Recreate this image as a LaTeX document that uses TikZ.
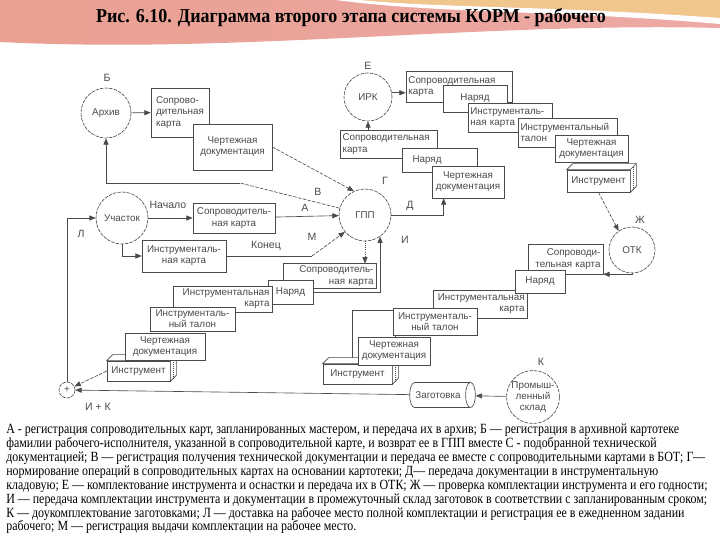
\documentclass[tikz,border=0pt]{standalone}
\usepackage{fontspec}
\setmainfont{Liberation Serif}
\setsansfont{Liberation Sans}
\newfontfamily\titlefont[FakeStretch=0.915]{Liberation Serif}
\newfontfamily\legendfont[FakeStretch=0.85]{Liberation Serif}
\usepackage{tikz}
\usetikzlibrary{shapes.geometric}
\usetikzlibrary{arrows.meta}
\definecolor{ink}{HTML}{4A4A4A}
\definecolor{hdrL}{HTML}{E9A092}
\definecolor{hdrM}{HTML}{E495B4}
\definecolor{hdrR}{HTML}{EDA9A6}
\definecolor{hdrY}{HTML}{F1C68C}

\begin{document}
\begin{tikzpicture}[
	proc/.style={circle, draw=ink, line width=0.45pt, dash pattern=on 2.5pt off 0.8pt, fill=white, inner sep=0pt, align=center, text=ink, font=\sffamily\fontsize{7}{8}\selectfont},
	doc/.style={rectangle, draw=ink, line width=0.45pt, fill=white, inner sep=1.5pt, text=ink, font=\sffamily\fontsize{7}{8}\selectfont},
	lbl/.style={inner sep=1pt, text=ink, font=\sffamily\fontsize{7.5}{9}\selectfont},
	wire/.style={draw=ink, line width=0.45pt},
	flow/.style={wire, -{Triangle[length=4.5pt, width=3.6pt]}},
	broken/.style={dash pattern=on 2.5pt off 1pt}]
	\useasboundingbox (0, 0) rectangle (18, 13.5);
	% Header band and title:
	\shade[left color=hdrL, middle color=hdrM, right color=hdrR] (0, 13.5) -- (18, 13.5) -- (18, 12.8) .. controls (12, 12.95) and (6, 12.15) .. (0, 12.45) -- cycle;
	\fill[hdrY] (9, 13.5) .. controls (11, 13.3) and (14, 13.35) .. (18, 13.05) -- (18, 13.5) -- cycle;
	\fill[white] (8.4, 13.5) .. controls (11, 13.15) and (14, 13.25) .. (18, 12.9) -- (18, 13.05) .. controls (14, 13.35) and (11, 13.3) .. (9, 13.5) -- cycle;
	\node[font=\titlefont\bfseries\fontsize{14}{16}\selectfont](title) at (8.775, 13.05){Рис. 6.10. Диаграмма второго этапа системы КОРМ - рабочего};
	% Circles (processes):
	\node[proc, minimum size=1.25cm](arch) at (2.65, 10.675){Архив};
	\node[proc, minimum size=1.2cm](irk) at (9.2, 11.075){ИРК};
	\node[proc, minimum size=1.3cm](gpp) at (9.125, 8.125){ГПП};
	\node[proc, minimum size=1.3cm](uch) at (3.05, 8.05){Участок};
	\node[proc, minimum size=1.15cm](otk) at (15.8, 7.25){ОТК};
	\node[proc, minimum size=1.05cm](sklad) at (13.325, 3.575){Промыш-\\ленный\\склад};
	\node[proc, minimum size=0.4cm](plus) at (1.675, 3.75){+};
	\node[cylinder, draw=ink, line width=0.45pt, fill=white, aspect=0.6, minimum width=0.625cm, minimum height=1.55cm, text=ink, font=\sffamily\fontsize{7}{8}\selectfont](zag) at (10.95, 3.625){Заготовка};
	% Documents, upper left:
	\node[doc, minimum width=1.45cm, minimum height=1.225cm, align=left](ul1) at (4.5, 10.6875){Сопрово-\\дительная\\карта};
	\node[doc, minimum width=1.975cm, minimum height=1.15cm, align=center](ul2) at (5.8125, 9.825){Чертежная\\документация};
	% Documents, upper right:
	\node[doc, minimum width=2.65cm, minimum height=0.775cm, text width=2.53cm, align=left](r1) at (11.475, 11.3375){Сопроводительная\\карта};
	\node[doc, minimum width=1.6cm, minimum height=0.675cm](r2) at (11.875, 11.0375){Наряд};
	\node[doc, minimum width=2.1cm, minimum height=0.725cm, text width=1.98cm, align=left](r3) at (12.75, 10.5625){Инструменталь-\\ная карта};
	\node[doc, minimum width=2.475cm, minimum height=0.725cm, text width=2.35cm, align=left](r4) at (14.1875, 10.1875){Инструментальный\\талон};
	\node[doc, minimum width=1.825cm, minimum height=0.675cm, align=center](r5) at (14.7875, 9.7875){Чертежная\\документация};
	\node[doc, minimum width=1.575cm, minimum height=0.55cm](r6) at (14.9625, 8.975){Инструмент};
	\filldraw[wire, fill=white] (r6.north west) -- ++(0.15, 0.15) -- ([shift={(0.15, 0.15)}]r6.north east) -- ([shift={(0.15, 0.15)}]r6.south east) -- (r6.south east) -- (r6.north east) -- cycle;
	\draw[wire] (r6.north east) -- ++(0.15, 0.15);
	\draw[wire, densely dotted] ([shift={(0.075, 0.075)}]r6.north east) -- ([shift={(0.075, 0.075)}]r6.south east);
	% Documents, middle:
	\node[doc, minimum width=2.425cm, minimum height=0.7cm, text width=2.3cm, align=left](m1) at (9.7125, 9.9){Сопроводительная\\карта};
	\node[doc, minimum width=1.875cm, minimum height=0.6cm, text width=1.75cm, align=left](m2) at (10.9875, 9.5){\hspace*{0.2cm}Наряд};
	\node[doc, minimum width=1.8cm, minimum height=0.8cm, align=center](m3) at (11.7, 8.95){Чертежная\\документация};
	\node[doc, minimum width=2.05cm, minimum height=0.75cm, align=center](ml1) at (5.85, 8.05){Сопроводитель-\\ная карта};
	\node[doc, minimum width=2.1cm, minimum height=0.8cm, align=center](ml2) at (4.6, 7.1){Инструменталь-\\ная карта};
	% Documents, lower left:
	\node[doc, minimum width=2.325cm, minimum height=0.6cm, text width=2.2cm, align=right](ll1) at (8.2375, 6.6){Сопроводитель-\\ная карта};
	\node[doc, minimum width=1.125cm, minimum height=0.6cm](ll2) at (7.2625, 6.2){Наряд};
	\node[doc, minimum width=2.475cm, minimum height=0.65cm, text width=2.35cm, align=right](ll3) at (5.5625, 6.025){Инструментальная\\карта};
	\node[doc, minimum width=2.125cm, minimum height=0.6cm, align=center](ll4) at (4.8125, 5.525){Инструменталь-\\ный талон};
	\node[doc, minimum width=1.575cm, minimum height=0.5cm](ll6) at (3.4625, 4.225){Инструмент};
	\filldraw[wire, fill=white] (ll6.north west) -- ++(0.15, 0.15) -- ([shift={(0.15, 0.15)}]ll6.north east) -- ([shift={(0.15, 0.15)}]ll6.south east) -- (ll6.south east) -- (ll6.north east) -- cycle;
	\draw[wire] (ll6.north east) -- ++(0.15, 0.15);
	\draw[wire, densely dotted] ([shift={(0.075, 0.075)}]ll6.north east) -- ([shift={(0.075, 0.075)}]ll6.south east);
	\node[doc, minimum width=2.0cm, minimum height=0.675cm, align=center](ll5) at (4.125, 4.8375){Чертежная\\документация};
	% Documents, lower right:
	\node[doc, minimum width=1.875cm, minimum height=0.75cm, text width=1.75cm, align=right](lr1) at (14.1375, 7.025){Сопроводи-\\тельная карта};
	\draw[wire] (8.8, 4.45) rectangle (9.875, 5.75);
	\node[doc, minimum width=1.725cm, minimum height=0.5cm](lr6) at (8.9375, 4.15){Инструмент};
	\filldraw[wire, fill=white] (lr6.north west) -- ++(0.15, 0.15) -- ([shift={(0.15, 0.15)}]lr6.north east) -- ([shift={(0.15, 0.15)}]lr6.south east) -- (lr6.south east) -- (lr6.north east) -- cycle;
	\draw[wire] (lr6.north east) -- ++(0.15, 0.15);
	\draw[wire, densely dotted] ([shift={(0.075, 0.075)}]lr6.north east) -- ([shift={(0.075, 0.075)}]lr6.south east);
	\node[doc, minimum width=1.8cm, minimum height=0.7cm, align=center](lr5) at (9.85, 4.725){Чертежная\\документация};
	\node[doc, minimum width=2.35cm, minimum height=0.7cm, text width=2.23cm, align=right](lr3) at (12.0, 5.9){Инструментальная\\карта};
	\node[doc, minimum width=2.1cm, minimum height=0.675cm, align=center](lr4) at (10.875, 5.4625){Инструменталь-\\ный талон};
	\node[doc, minimum width=1.25cm, minimum height=0.575cm](lr2) at (13.5, 6.4625){Наряд};
	% Letters and captions:
	\node[lbl](lblB) at (2.675, 11.55){Б};
	\node[lbl](lblE) at (9.2, 11.85){Е};
	\node[lbl](lblV) at (7.95, 8.7){В};
	\node[lbl](lblG) at (9.625, 8.975){Г};
	\node[lbl](lblD) at (10.25, 8.35){Д};
	\node[lbl](lblI) at (10.125, 7.5){И};
	\node[lbl](lblA) at (7.625, 8.3){А};
	\node[lbl](lblM) at (7.8, 7.575){М};
	\node[lbl](lblStart) at (4.2, 8.375){Начало};
	\node[lbl](lblEnd) at (6.65, 7.35){Конец};
	\node[lbl](lblL) at (2.025, 7.65){Л};
	\node[lbl](lblZh) at (16.0, 8.0){Ж};
	\node[lbl](lblK) at (13.525, 4.45){К};
	\node[lbl](lblIK) at (2.45, 3.325){И + К};
	\coordinate (bB) at (6.0, 8.925);
	\coordinate (bM) at (7.8, 7.1);
	% Connectors:
	\draw[flow] (arch) -- (ul1);
	\draw[flow, broken] (ul2.east) -- (gpp.115);
	\draw[wire, broken] (gpp.165) -- (bB);
	\draw[flow] (bB) -| (arch.south);
	\draw[flow] (irk.10) -- (irk.10 -| r1.west);
	\draw[flow] (irk.south |- m1.north) -- (irk.south);
	\draw[flow] (uch) -- (ml1);
	\draw[flow] (ml1) -- (gpp);
	\draw[flow] (uch.south) |- (ml2.west);
	\draw[wire] (ml2.east) -- (bM);
	\draw[flow, broken] (bM) -- (gpp.-140);
	\draw[flow, densely dotted] (gpp.south) -- (gpp.south |- ll1.north);
	\draw[flow] (ll2.east) -| (gpp.-55);
	\draw[flow] (gpp.east) -| ([xshift=0.3cm]m3.south west);
	\draw[flow, broken] (r6.south) -- (otk.125);
	\draw[flow] (otk.south) |- (lr1.south east);
	\draw[flow] (plus.north) |- (uch.west);
	\draw[flow, broken] (ll6.west) -- (plus);
	\draw[flow] (zag) -- (plus);
	\draw[flow] (sklad) -- (zag);
	% Legend:
	\node[anchor=north west, inner sep=0pt, align=left, font=\legendfont\fontsize{10}{9.9}\selectfont](legend) at (0.15, 2.91){А - регистрация сопроводительных карт, запланированных мастером, и передача их в архив; Б — регистрация в архивной картотеке\\фамилии рабочего-исполнителя, указанной в сопроводительной карте, и возврат ее в ГПП вместе С - подобранной технической\\документацией; В — регистрация получения технической документации и передача ее вместе с сопроводительными картами в БОТ; Г—\\нормирование операций в сопроводительных картах на основании картотеки; Д— передача документации в инструментальную\\кладовую; Е — комплектование инструмента и оснастки и передача их в ОТК; Ж — проверка комплектации инструмента и его годности;\\И — передача комплектации инструмента и документации в промежуточный склад заготовок в соответствии с запланированным сроком;\\К — доукомплектование заготовками; Л — доставка на рабочее место полной комплектации и регистрация ее в ежедненном задании\\рабочего; М — регистрация выдачи комплектации на рабочее место.};
\end{tikzpicture}
\end{document}
